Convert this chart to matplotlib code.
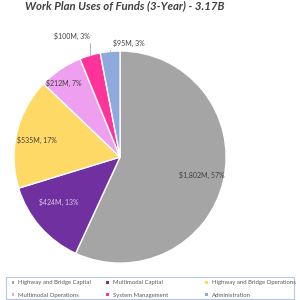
import matplotlib.pyplot as plt
from matplotlib.patches import Rectangle
import numpy as np

# uses of funds, $M
categories = ['Highway and Bridge Capital', 'Multimodal Capital',
              'Highway and Bridge Operations', 'Multimodal Operations',
              'System Management', 'Administration']
values = [1802, 424, 535, 212, 100, 95]
pcts = [57, 13, 17, 7, 3, 3]
colors = ['#A5A5A5', '#7030A0', '#FFD966', '#EE9FF0', '#FF3399', '#8EA9DB']

plt.rcParams['font.family'] = ['Lato', 'DejaVu Sans']

fig = plt.figure(figsize=(3, 3), dpi=100)
ax = fig.add_axes([0.0467, 0.123, 0.707, 0.707])

wedges, _ = ax.pie(values, colors=colors, startangle=90, counterclock=False,
                   wedgeprops=dict(edgecolor='white', linewidth=1))
ax.set_xlim(-1, 1)
ax.set_ylim(-1, 1)
ax.set_aspect('equal')

labels = ['${:,}M, {}%'.format(v, p) for v, p in zip(values, pcts)]

# inside labels: radius factor and angle tweak per slice
inside = {0: (0.79, 0), 1: (0.72, -5), 2: (0.80, 2), 3: (0.88, 3)}
for i, (r, dth) in inside.items():
    w = wedges[i]
    th = np.deg2rad((w.theta1 + w.theta2) / 2 + dth)
    c = '#D9C9E8' if i == 1 else '#404040'
    ax.text(r * np.cos(th), r * np.sin(th), labels[i], ha='center', va='center',
            fontsize=5, color=c)

# outside labels with leader lines
outside = {4: (-0.45, 1.14), 5: (0.08, 1.07)}
for i, (tx, ty) in outside.items():
    w = wedges[i]
    th = np.deg2rad((w.theta1 + w.theta2) / 2)
    ax.annotate(labels[i], xy=(np.cos(th), np.sin(th)), xytext=(tx, ty),
                ha='center', va='center', fontsize=5, color='#404040',
                arrowprops=dict(arrowstyle='-', color='#A6A6A6', lw=0.6,
                                shrinkA=0, shrinkB=0,
                                connectionstyle='angle,angleA=0,angleB=90'),
                annotation_clip=False)

fig.text(0.417, 0.9995, 'Work Plan Uses of Funds (3-Year) - 3.17B', ha='center', va='top',
         fontsize=8.2, fontweight='bold', style='italic', color='#404040')

# legend: three columns of two entries, row-wise order
fig.patches.append(Rectangle((0.02, 0.003), 0.96, 0.074, transform=fig.transFigure,
                             fill=False, edgecolor='#B4C7E7', linewidth=0.8))
col_x = [0.022, 0.338, 0.668]
for k in range(3):
    idx = [k, k + 3]
    leg = fig.legend([wedges[i] for i in idx], [categories[i] for i in idx],
                     loc='upper left', bbox_to_anchor=(col_x[k], 0.082),
                     fontsize=4.3, frameon=False, handlelength=0.4, handleheight=0.4,
                     handletextpad=0.7, borderpad=0.35, labelspacing=1.25,
                     labelcolor='#595959')
    for h in leg.legend_handles:
        h.set_edgecolor('none')

fig.savefig('out.png', dpi=100)
